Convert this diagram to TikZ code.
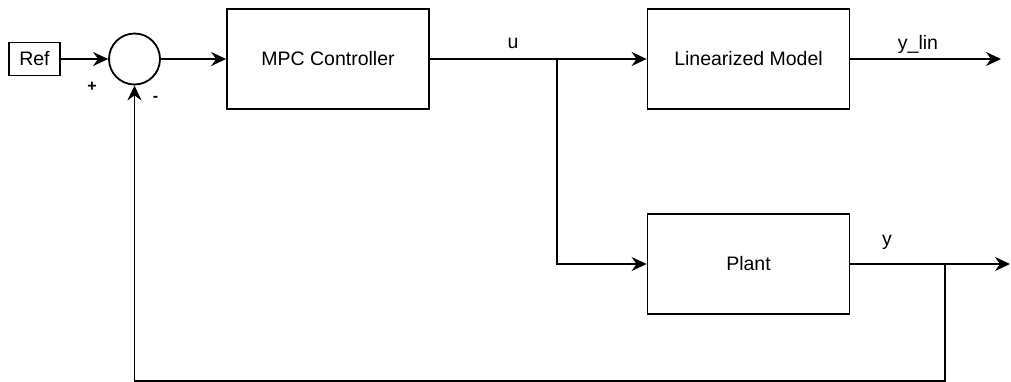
\documentclass[tikz,border=0pt]{standalone}
\usepackage{fontspec}
\setmainfont{Liberation Sans}
\usetikzlibrary{arrows.meta}
\begin{document}
\begin{tikzpicture}[x=1pt,y=-1pt,
  lbl/.style={font=\fontsize{19.5}{23}\selectfont, inner sep=0pt},
  block/.style={draw, line width=1.8pt, minimum width=202pt, minimum height=100pt,
    inner sep=0pt, font=\fontsize{19.5}{23}\selectfont},
  refbox/.style={draw, line width=1.8pt, minimum width=51pt, minimum height=33pt,
    inner sep=0pt, font=\fontsize{19.5}{23}\selectfont},
  sumnode/.style={draw, circle, line width=1.8pt, minimum size=51pt, inner sep=0pt},
  sign/.style={font=\bfseries\fontsize{16}{19}\selectfont, inner sep=0pt},
  wire/.style={line width=1.8pt},
  sig/.style={wire, -{Stealth[length=15pt, width=14pt, inset=5pt]}}
]
\useasboundingbox (0,0) rectangle (1011,381);

% blocks
\node[refbox] (ref) at (34.5,59) {Ref};
\node[sumnode] (sum) at (134.5,59) {};
\node[block] (mpc) at (328,59) {MPC Controller};
\node[block] (lin) at (748.5,59) {Linearized Model};
\node[block] (plant) at (748.5,264) {Plant};

% signs at the summing junction
\node[sign] (plus) at (92,87) {+};
\node[sign] (minus) at (155.5,99) {-};

% branch points and free ends
\coordinate (ubr) at (557,59);
\coordinate (ybr) at (945,264);
\coordinate (ylinend) at (1001,59);
\coordinate (yend) at (1010,264);
\coordinate (fb) at (945,381.3);

% signals
\draw[sig] (ref.east) -- (sum.west);
\draw[sig] (sum.east) -- (mpc.west);
\draw[sig] (mpc.east) -- (lin.west);
\draw[sig] (ubr) |- (plant.west);
\draw[sig] (lin.east) -- (ylinend);
\draw[sig] (plant.east) -- (yend);
\draw[sig] (ybr) -- (fb) -| (sum.south);

% signal labels
\node[lbl, anchor=base] (ulbl) at (513,48) {u};
\node[lbl, anchor=base] (ylinlbl) at (918,49) {y\_lin};
\node[lbl, anchor=base] (ylbl) at (887,245) {y};
\end{tikzpicture}
\end{document}
